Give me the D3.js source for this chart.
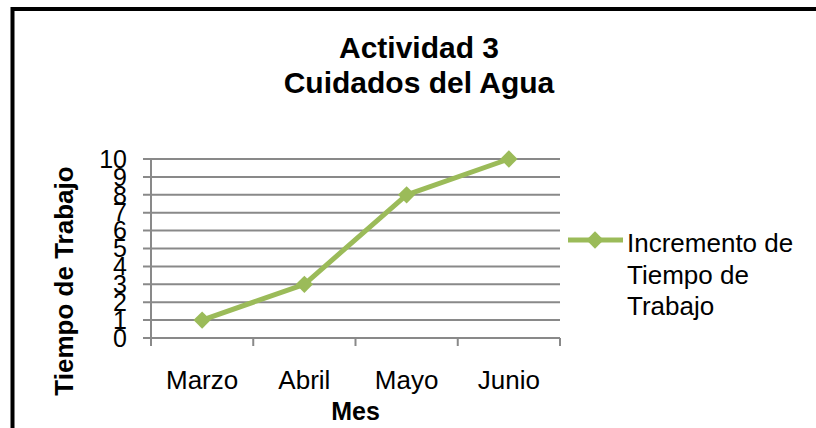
<!DOCTYPE html>
<html>
<head>
<meta charset="utf-8">
<script src="https://cdn.jsdelivr.net/npm/d3@7"></script>
<style>
  body { margin: 0; background: #fff; }
  svg text { font-family: "Liberation Sans", Arial, sans-serif; fill: #000; }
</style>
</head>
<body>
<div id="chart"></div>
<script>
const months = ["Marzo", "Abril", "Mayo", "Junio"];
const values = [1, 3, 8, 10];
const yTicks = [0, 1, 2, 3, 4, 5, 6, 7, 8, 9, 10];
const titleLines = ["Actividad 3", "Cuidados del Agua"];
const seriesName = ["Incremento de", "Tiempo de", "Trabajo"];

const W = 816, H = 428;
const green = "#9bbb59";
const grid = "#898989";

const svg = d3.select("#chart").append("svg")
    .attr("width", W)
    .attr("height", H);

// outer chart frame (runs off the right and bottom edge)
svg.append("rect")
    .attr("x", 12.5).attr("y", 9)
    .attr("width", 900).attr("height", 600)
    .attr("fill", "none")
    .attr("stroke", "#000")
    .attr("stroke-width", 4);

const plot = { left: 151, right: 560, top: 159, bottom: 338 };

const x = d3.scaleBand().domain(months).range([plot.left, plot.right]);
const y = d3.scaleLinear().domain([0, 10]).range([plot.bottom, plot.top]);

// gridlines + y ticks
svg.selectAll(".grid")
    .data(yTicks)
    .enter().append("line")
    .attr("x1", plot.left - 8)
    .attr("x2", plot.right)
    .attr("y1", d => y(d))
    .attr("y2", d => y(d))
    .attr("stroke", grid)
    .attr("stroke-width", 2);

// y axis line
svg.append("line")
    .attr("x1", plot.left).attr("x2", plot.left)
    .attr("y1", plot.top).attr("y2", plot.bottom)
    .attr("stroke", grid).attr("stroke-width", 2);

// x ticks at band edges
const edges = months.map(m => x(m)).concat([plot.right]);
svg.selectAll(".xtick")
    .data(edges)
    .enter().append("line")
    .attr("x1", d => d).attr("x2", d => d)
    .attr("y1", plot.bottom).attr("y2", plot.bottom + 8)
    .attr("stroke", grid).attr("stroke-width", 2);

// y tick labels (big, they overlap like the original)
svg.selectAll(".ylab")
    .data(yTicks)
    .enter().append("text")
    .attr("x", 127)
    .attr("y", d => y(d))
    .attr("dy", "0.35em")
    .attr("text-anchor", "end")
    .style("font-size", "25px")
    .text(d => d);

// x labels
svg.selectAll(".xlab")
    .data(months)
    .enter().append("text")
    .attr("x", d => x(d) + x.bandwidth() / 2)
    .attr("y", 389)
    .attr("text-anchor", "middle")
    .style("font-size", "26px")
    .text(d => d);

// series line
const line = d3.line()
    .x((d, i) => x(months[i]) + x.bandwidth() / 2)
    .y(d => y(d));

svg.append("path")
    .datum(values)
    .attr("d", line)
    .attr("fill", "none")
    .attr("stroke", green)
    .attr("stroke-width", 5)
    .attr("stroke-linejoin", "round");

// diamond markers
svg.selectAll(".pt")
    .data(values)
    .enter().append("path")
    .attr("d", d3.symbol().type(d3.symbolSquare).size(150))
    .attr("transform", (d, i) => `translate(${x(months[i]) + x.bandwidth() / 2},${y(d)}) rotate(45)`)
    .attr("fill", green);

// title
svg.selectAll(".title")
    .data(titleLines)
    .enter().append("text")
    .attr("x", 419)
    .attr("y", (d, i) => 58 + i * 35)
    .attr("text-anchor", "middle")
    .style("font-size", "30px")
    .style("font-weight", "bold")
    .text(d => d);

// axis titles
svg.append("text")
    .attr("x", (plot.left + plot.right) / 2)
    .attr("y", 420)
    .attr("text-anchor", "middle")
    .style("font-size", "25px")
    .style("font-weight", "bold")
    .text("Mes");

svg.append("text")
    .attr("transform", "translate(73,281) rotate(-90)")
    .attr("text-anchor", "middle")
    .style("font-size", "26px")
    .style("font-weight", "bold")
    .text("Tiempo de Trabajo");

// legend
const lg = svg.append("g");
lg.append("line")
    .attr("x1", 568).attr("x2", 623)
    .attr("y1", 240).attr("y2", 240)
    .attr("stroke", green).attr("stroke-width", 5);
lg.append("path")
    .attr("d", d3.symbol().type(d3.symbolSquare).size(150))
    .attr("transform", "translate(595,240) rotate(45)")
    .attr("fill", green);
lg.selectAll("text")
    .data(seriesName)
    .enter().append("text")
    .attr("x", 627)
    .attr("y", (d, i) => 252 + i * 31.5)
    .style("font-size", "26px")
    .text(d => d);
</script>
</body>
</html>
